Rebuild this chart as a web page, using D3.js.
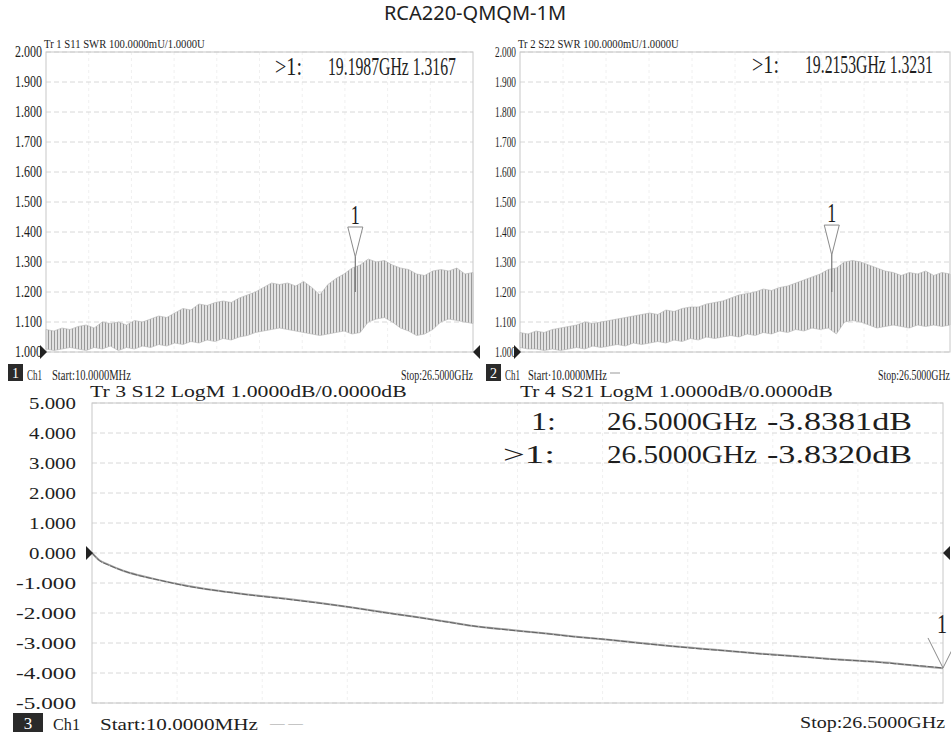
<!DOCTYPE html>
<html>
<head>
<meta charset="utf-8">
<script src="https://cdn.jsdelivr.net/npm/d3@7"></script>
<style>
  body { margin: 0; background: #fff; }
  text { font-family: "Liberation Serif", "DejaVu Serif", serif; fill: #1e1e1e; }
</style>
</head>
<body>
<script>
// sweep 10 MHz .. 26.5 GHz, SWR envelope read every 0.5 GHz
const swrFreq = [0.01, 0.5, 1, 1.5, 2, 2.5, 3, 3.5, 4, 4.5, 5, 5.5, 6, 6.5, 7, 7.5, 8, 8.5, 9, 9.5,
  10, 10.5, 11, 11.5, 12, 12.5, 13, 13.5, 14, 14.5, 15, 15.5, 16, 16.5, 17, 17.5, 18, 18.5, 19, 19.5,
  20, 20.5, 21, 21.5, 22, 22.5, 23, 23.5, 24, 24.5, 25, 25.5, 26, 26.5];

const s11Upper = [1.075, 1.07, 1.08, 1.075, 1.085, 1.09, 1.08, 1.10, 1.095, 1.10,
  1.09, 1.105, 1.10, 1.11, 1.12, 1.115, 1.13, 1.145, 1.14, 1.16,
  1.155, 1.165, 1.17, 1.165, 1.18, 1.19, 1.20, 1.215, 1.23, 1.225,
  1.23, 1.22, 1.235, 1.215, 1.19, 1.225, 1.245, 1.26, 1.28, 1.29,
  1.31, 1.30, 1.305, 1.29, 1.28, 1.275, 1.26, 1.255, 1.27, 1.275,
  1.27, 1.28, 1.26, 1.265];
const s11Lower = [1.01, 1.005, 1.01, 1.015, 1.01, 1.005, 1.015, 1.01, 1.02, 1.005,
  1.015, 1.01, 1.02, 1.015, 1.025, 1.02, 1.03, 1.025, 1.035, 1.03,
  1.04, 1.035, 1.045, 1.04, 1.05, 1.055, 1.065, 1.07, 1.075, 1.08,
  1.075, 1.07, 1.065, 1.06, 1.055, 1.06, 1.065, 1.07, 1.06, 1.065,
  1.10, 1.11, 1.115, 1.10, 1.08, 1.07, 1.055, 1.06, 1.075, 1.10,
  1.11, 1.105, 1.10, 1.095];

const s22Upper = [1.065, 1.06, 1.07, 1.065, 1.075, 1.08, 1.085, 1.09, 1.10, 1.095,
  1.10, 1.105, 1.11, 1.115, 1.12, 1.125, 1.13, 1.125, 1.14, 1.135,
  1.145, 1.15, 1.15, 1.16, 1.165, 1.17, 1.18, 1.19, 1.195, 1.20,
  1.21, 1.205, 1.215, 1.22, 1.23, 1.24, 1.25, 1.26, 1.275, 1.28,
  1.30, 1.305, 1.30, 1.29, 1.28, 1.27, 1.265, 1.255, 1.265, 1.26,
  1.27, 1.255, 1.265, 1.26];
const s22Lower = [1.015, 1.01, 1.01, 1.005, 1.01, 1.005, 1.01, 1.015, 1.01, 1.02,
  1.015, 1.02, 1.025, 1.02, 1.03, 1.025, 1.03, 1.035, 1.03, 1.04,
  1.035, 1.045, 1.04, 1.05, 1.045, 1.05, 1.055, 1.05, 1.06, 1.055,
  1.065, 1.06, 1.07, 1.065, 1.075, 1.07, 1.08, 1.075, 1.08, 1.06,
  1.10, 1.105, 1.10, 1.09, 1.08, 1.085, 1.09, 1.085, 1.08, 1.09,
  1.085, 1.09, 1.085, 1.09];

// insertion loss, dB
const lossFreq = [0.01, 0.25, 0.5, 1, 1.5, 2, 3, 4, 5, 6, 7, 8, 9, 10, 11, 12, 13, 14, 15, 16,
  17, 18, 19, 20, 21, 22, 23, 24, 25, 26, 26.5];
const s12Loss = [0, -0.25, -0.38, -0.6, -0.75, -0.88, -1.1, -1.27, -1.4, -1.52, -1.65, -1.8, -1.96,
  -2.12, -2.28, -2.45, -2.56, -2.67, -2.78, -2.88, -2.99, -3.1, -3.19, -3.28, -3.37, -3.45, -3.53,
  -3.6, -3.68, -3.79, -3.838];
const s21Loss = [0, -0.26, -0.39, -0.6, -0.76, -0.88, -1.11, -1.27, -1.41, -1.53, -1.66, -1.8, -1.97,
  -2.12, -2.29, -2.45, -2.57, -2.67, -2.79, -2.88, -3.0, -3.1, -3.2, -3.28, -3.38, -3.45, -3.54,
  -3.6, -3.69, -3.78, -3.832];

const markerFreq = [19.1987, 19.2153, 26.5];
const markerValue = [1.3167, 1.3231, -3.832];

const swrTicks = [1.0, 1.1, 1.2, 1.3, 1.4, 1.5, 1.6, 1.7, 1.8, 1.9, 2.0];
const lossTicks = [5, 4, 3, 2, 1, 0, -1, -2, -3, -4, -5];

const svg = d3.select("body").append("svg").attr("width", 951).attr("height", 738);

const pat = svg.append("defs").append("pattern")
  .attr("id", "hatch").attr("width", 3).attr("height", 6)
  .attr("patternUnits", "userSpaceOnUse");
pat.append("rect").attr("width", 3).attr("height", 6).attr("fill", "#e2e2e2");
pat.append("rect").attr("width", 1).attr("height", 6).attr("fill", "#9a9a9a");

// squeeze a text horizontally to a given width (printer font is condensed)
function squeeze(t, x, y, len) {
  const w = t.node().getComputedTextLength();
  const sx = len && w ? len / w : 1;
  t.attr("transform", `translate(${x},${y}) scale(${sx},1)`);
}

function label(g, str, x, y, size, len, anchor) {
  const t = g.append("text")
    .attr("font-size", size)
    .attr("text-anchor", anchor || "start")
    .text(str);
  squeeze(t, x, y, len);
  return t;
}

function grid(g, x, y, box, yTicks) {
  g.append("g").selectAll("line")
    .data(d3.range(1, 10))
    .join("line")
    .attr("x1", d => box.left + d * (box.right - box.left) / 10)
    .attr("x2", d => box.left + d * (box.right - box.left) / 10)
    .attr("y1", box.top).attr("y2", box.bottom)
    .attr("stroke", "#f0f0f0")
    .attr("stroke-dasharray", "3,3");
  g.append("g").selectAll("line")
    .data(yTicks)
    .join("line")
    .attr("x1", box.left).attr("x2", box.right)
    .attr("y1", d => y(d)).attr("y2", d => y(d))
    .attr("stroke", "#d8d8d8")
    .attr("stroke-dasharray", "5,3");
  g.append("rect")
    .attr("x", box.left).attr("y", box.top)
    .attr("width", box.right - box.left).attr("height", box.bottom - box.top)
    .attr("fill", "none").attr("stroke", "#c8c8c8");
}

function refArrows(g, yPos, box, showRight) {
  g.append("path")
    .attr("d", `M${box.left + 1},${yPos} L${box.left - 6},${yPos - 7} L${box.left - 6},${yPos + 7} Z`)
    .attr("fill", "#222");
  if (showRight) {
    g.append("path")
      .attr("d", `M${box.right},${yPos} L${box.right + 7},${yPos - 7} L${box.right + 7},${yPos + 7} Z`)
      .attr("fill", "#222");
  }
}

function chanBox(g, bx, by, w, h, num, size) {
  g.append("rect").attr("x", bx).attr("y", by).attr("width", w).attr("height", h).attr("fill", "#2a2a2a");
  g.append("text").attr("x", bx + w / 2).attr("y", by + h - 3)
    .attr("font-size", size).attr("text-anchor", "middle")
    .style("fill", "#fff").text(num);
}

function swrPanel(cfg) {
  const box = cfg.box;
  const x = d3.scaleLinear().domain([0.01, 26.5]).range([box.left, box.right]);
  const y = d3.scaleLinear().domain([1, 2]).range([box.bottom, box.top]);
  const g = svg.append("g");

  grid(g, x, y, box, swrTicks);

  const band = d3.area()
    .x(i => x(swrFreq[i]))
    .y0(i => y(cfg.lower[i]))
    .y1(i => y(cfg.upper[i]));
  g.append("path")
    .datum(d3.range(swrFreq.length))
    .attr("d", band)
    .attr("fill", "url(#hatch)")
    .attr("stroke", "#b4b4b4")
    .attr("stroke-width", 0.6);

  // marker spike + triangle
  const mx = x(markerFreq[cfg.mk]), my = y(markerValue[cfg.mk]);
  g.append("line")
    .attr("x1", mx).attr("x2", mx)
    .attr("y1", y(1.2)).attr("y2", my)
    .attr("stroke", "#777").attr("stroke-width", 1.2);
  g.append("path")
    .attr("d", `M${mx},${my} L${mx - 7.5},${my - 30} L${mx + 7.5},${my - 30} Z`)
    .attr("fill", "#fff").attr("stroke", "#8a8a8a");
  label(g, "1", mx, my - 33, 27, 9, "middle");

  refArrows(g, y(1), box, cfg.rightArrow);

  g.append("g").selectAll("text")
    .data(swrTicks)
    .join("text")
    .attr("font-size", cfg.tickSize)
    .attr("text-anchor", "end")
    .text(d => d.toFixed(3))
    .each(function (d) { squeeze(d3.select(this), cfg.tickEnd, y(d) + 5, cfg.tickLen); });

  label(g, cfg.header, box.left - 2, 48, 13, 161);
  label(g, ">1:", cfg.readX1, cfg.readY, 26, 27);
  label(g, cfg.readout, cfg.readX2, cfg.readY, 26, 128);

  chanBox(g, cfg.chBox, 364, 15, 17, cfg.chNum, 14);
  label(g, "Ch1", cfg.chBox + 19, 380, 14, 15);
  label(g, cfg.startText, cfg.startX, 380, 14, 79);
  label(g, "Stop:26.5000GHz", cfg.stopRight, 380, 14, 72, "end");
  if (cfg.dash) {
    g.append("line").attr("x1", cfg.dash).attr("x2", cfg.dash + 10)
      .attr("y1", 373).attr("y2", 373).attr("stroke", "#999");
  }
}

// title
svg.append("text")
  .attr("x", 475).attr("y", 20)
  .attr("text-anchor", "middle")
  .attr("font-size", 20)
  .style("font-family", "'Noto Sans', sans-serif")
  .style("fill", "#222")
  .text("RCA220-QMQM-1M");

swrPanel({
  box: { left: 46, right: 473, top: 52, bottom: 352 },
  upper: s11Upper, lower: s11Lower, mk: 0,
  tickEnd: 42, tickSize: 16, tickLen: 27,
  header: "Tr 1  S11 SWR 100.0000mU/1.0000U",
  readX1: 275, readX2: 328, readY: 75, readout: "19.1987GHz 1.3167",
  chBox: 8, chNum: "1", startX: 52, startText: "Start:10.0000MHz", stopRight: 473,
  rightArrow: true
});

swrPanel({
  box: { left: 520, right: 950, top: 52, bottom: 352 },
  upper: s22Upper, lower: s22Lower, mk: 1,
  tickEnd: 516, tickSize: 15, tickLen: 21,
  header: "Tr 2  S22 SWR 100.0000mU/1.0000U",
  readX1: 752, readX2: 805, readY: 73, readout: "19.2153GHz 1.3231",
  chBox: 486, chNum: "2", startX: 528, startText: "Start·10.0000MHz", stopRight: 950,
  rightArrow: false, dash: 610
});

// bottom panel: S12 / S21 LogM
(function () {
  const box = { left: 92, right: 943, top: 403, bottom: 703 };
  const x = d3.scaleLinear().domain([0.01, 26.5]).range([box.left, box.right]);
  const y = d3.scaleLinear().domain([-5, 5]).range([box.bottom, box.top]);
  const g = svg.append("g");

  grid(g, x, y, box, lossTicks);

  const line = d3.line()
    .x((d, i) => x(lossFreq[i]))
    .y(d => y(d))
    .curve(d3.curveMonotoneX);
  g.append("path").datum(s12Loss).attr("d", line)
    .attr("fill", "none").attr("stroke", "#a4a4a4").attr("stroke-width", 2);
  g.append("path").datum(s21Loss).attr("d", line)
    .attr("fill", "none").attr("stroke", "#5a5a5a").attr("stroke-width", 0.9)
    .attr("stroke-dasharray", "6,1.5");

  const mx = x(markerFreq[2]), my = y(markerValue[2]);
  g.append("path")
    .attr("d", `M${mx - 15},${my - 30} L${mx},${my} L${mx + 15},${my - 30}`)
    .attr("fill", "none").attr("stroke", "#8a8a8a");
  label(g, "1", mx - 1, my - 35, 28, 10, "middle");

  refArrows(g, y(0), box, true);

  g.append("g").selectAll("text")
    .data(lossTicks)
    .join("text")
    .attr("font-size", 17)
    .attr("text-anchor", "end")
    .text(d => d.toFixed(3))
    .each(function (d) { squeeze(d3.select(this), 76, y(d) + 6, d < 0 ? 60 : 47); });

  label(g, "Tr 3  S12 LogM 1.0000dB/0.0000dB", 90, 397, 17, 317);
  label(g, "Tr 4  S21 LogM 1.0000dB/0.0000dB", 520, 397, 17, 313);

  label(g, "1:", 531, 430, 26, 25);
  label(g, "26.5000GHz", 607, 430, 26, 150);
  label(g, "-3.8381dB", 767, 430, 26, 145);
  label(g, ">1:", 503, 463, 26, 52);
  label(g, "26.5000GHz", 607, 463, 26, 150);
  label(g, "-3.8320dB", 767, 463, 26, 145);

  chanBox(g, 13, 713, 30, 19, "3", 17);
  label(g, "Ch1", 53, 730, 17, 27);
  label(g, "Start:10.0000MHz", 100, 730, 17, 158);
  label(g, "— —", 270, 728, 14, 33).style("fill", "#999");
  label(g, "Stop:26.5000GHz", 945, 728, 17, 145, "end");
})();
</script>
</body>
</html>
